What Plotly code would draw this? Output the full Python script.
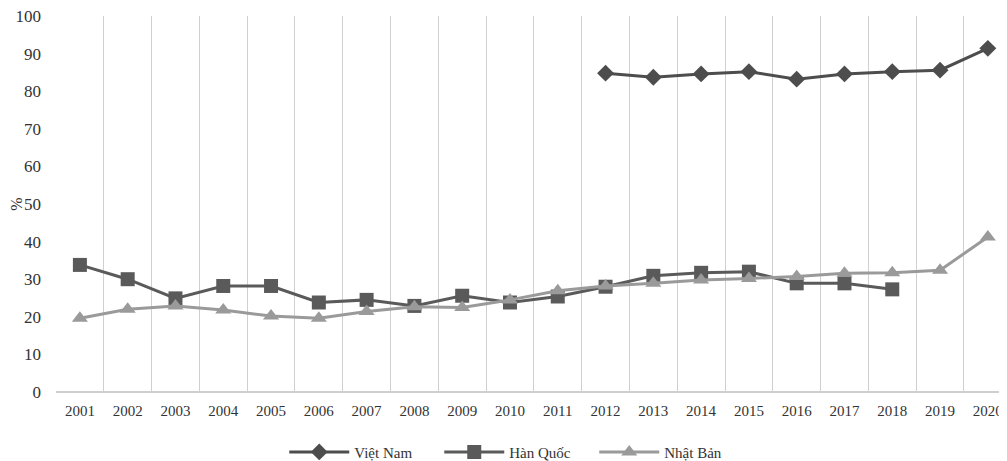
import plotly.graph_objects as go

years = [str(y) for y in range(2001, 2021)]
viet_nam = [None]*11 + [84.8, 83.7, 84.6, 85.2, 83.2, 84.6, 85.2, 85.6, 91.4]
han_quoc = [33.8, 30.0, 24.9, 28.2, 28.2, 23.8, 24.5, 22.9, 25.6, 23.8,
            25.4, 28.0, 30.9, 31.7, 32.0, 28.9, 28.9, 27.3, None, None]
nhat_ban = [19.6, 22.0, 22.9, 21.8, 20.2, 19.6, 21.4, 22.7, 22.5, 24.5,
            26.9, 28.2, 28.9, 29.8, 30.2, 30.7, 31.6, 31.7, 32.4, 41.2]

fig = go.Figure()
fig.add_trace(go.Scatter(x=years, y=viet_nam, name="Việt Nam", mode="lines+markers",
                         line=dict(color="#4d4d4d", width=3),
                         marker=dict(symbol="diamond", size=13, color="#4d4d4d")))
fig.add_trace(go.Scatter(x=years, y=han_quoc, name="Hàn Quốc", mode="lines+markers",
                         line=dict(color="#5a5a5a", width=3),
                         marker=dict(symbol="square", size=14, color="#5a5a5a")))
fig.add_trace(go.Scatter(x=years, y=nhat_ban, name="Nhật Bản", mode="lines+markers",
                         line=dict(color="#9a9a9a", width=3),
                         marker=dict(symbol="triangle-up", size=14, color="#9a9a9a")))

fig.update_layout(
    width=999, height=453,
    margin=dict(l=48, r=1, t=8, b=69, autoexpand=False),
    paper_bgcolor="white", plot_bgcolor="white",
    font=dict(family="Liberation Serif", color="#333333", size=14),
    showlegend=True,
    legend=dict(orientation="h", x=0.485, xanchor="center", y=-0.16, yanchor="middle",
                font=dict(size=15), itemwidth=60, entrywidth=80, tracegroupgap=0),
    xaxis=dict(type="category", range=[-0.5, 19.38], tickson="boundaries",
               showgrid=True, gridcolor="#d0d0d0", gridwidth=1, automargin=False,
               showline=False, ticks="", tickfont=dict(size=15), zeroline=False,
               ticklabelstandoff=8, ticklabeloverflow="allow"),
    yaxis=dict(range=[0, 100], dtick=10, showgrid=False, zeroline=True,
               zerolinecolor="#cfcfcf", zerolinewidth=1.5, automargin=False,
               showline=False, ticks="", tickfont=dict(size=17),
               ticklabelstandoff=14, ticklabeloverflow="allow",
               title=dict(text="%", standoff=0, font=dict(size=16))),
)

fig.write_html("out.html")
